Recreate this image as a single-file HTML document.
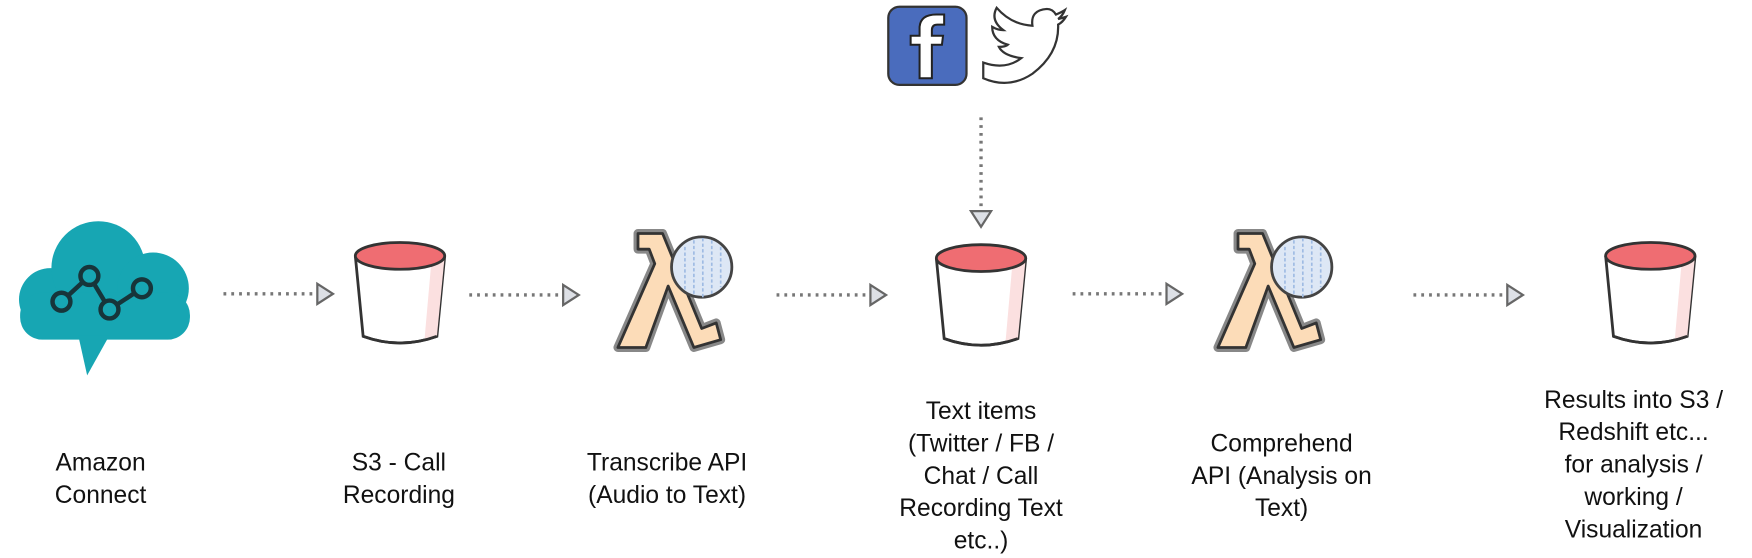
<!DOCTYPE html>
<html><head><meta charset="utf-8"><style>
html,body{margin:0;padding:0;background:#fff;}
svg{display:block;}
text{font-family:"Liberation Sans",Arial,sans-serif;font-size:22px;fill:#111;text-anchor:middle;}
</style></head><body>
<svg width="1752" height="558" viewBox="0 0 1568 499.4" xmlns="http://www.w3.org/2000/svg">
<defs>
<g id="bucket">
  <path d="M-40,0 L-33,72 Q0,84 33,72 L40,0" fill="#fff" stroke="#333" stroke-width="2.5"/>
  <path d="M28,6 L22,74 Q30,73 33,72 L40,0 Z" fill="#fbe0e0"/>
  <path d="M-33,72 Q0,84 33,72" fill="none" stroke="#333" stroke-width="2.5"/>
  <ellipse cx="0" cy="0" rx="40" ry="12" fill="#ef6d72" stroke="#333" stroke-width="2.5"/>
</g>
<g id="lambda">
  <path d="M18,0 L40,0 L75,85 L88,80 L92,95 L68,102 L45,47 L25,102 L0,102 L33,27 L28,14 L18,14 Z" fill="#fcdcb8" stroke="#888" stroke-width="8" stroke-linejoin="round"/>
  <path d="M18,0 L40,0 L75,85 L88,80 L92,95 L68,102 L45,47 L25,102 L0,102 L33,27 L28,14 L18,14 Z" fill="#fcdcb8" stroke="#333" stroke-width="2.5" stroke-linejoin="round"/>
  <circle cx="75" cy="30" r="27" fill="#dde7f5" stroke="#444" stroke-width="2.5"/>
  <path d="M60,12 L60,50 M68,6 L68,56 M76,4 L76,57 M84,6 L84,56 M92,12 L92,48" stroke="#9fbbe3" stroke-width="1.5" stroke-dasharray="3 2"/>
</g>
<g id="arr">
  <line x1="0" y1="0" x2="82" y2="0" stroke="#777" stroke-width="3" stroke-dasharray="2.5 4.5"/>
  <path d="M84,-9 L98,0 L84,9 Z" fill="#dde0e6" stroke="#666" stroke-width="2"/>
</g>
</defs>

<!-- Amazon Connect cloud -->
<g fill="#17a6b3">
  <circle cx="45" cy="268" r="28"/>
  <circle cx="88" cy="240" r="42"/>
  <circle cx="137" cy="258" r="32"/>
  <rect x="18" y="262" width="152" height="42" rx="20"/>
  <path d="M70,300 L98,300 L78,336 Z"/>
</g>
<g fill="none" stroke="#17353a" stroke-width="4">
  <polyline points="55,270 80,247 98,277 127,258"/>
</g>
<g fill="#17a6b3" stroke="#17353a" stroke-width="4">
  <circle cx="55" cy="270" r="8"/><circle cx="80" cy="247" r="8"/><circle cx="98" cy="277" r="8"/><circle cx="127" cy="258" r="8"/>
</g>

<use href="#arr" x="200" y="263"/>
<use href="#bucket" x="358" y="229"/>
<use href="#arr" x="420" y="264"/>
<use href="#lambda" x="553" y="209"/>
<use href="#arr" x="695" y="264"/>
<use href="#bucket" x="878" y="231"/>
<use href="#arr" x="960" y="263"/>
<use href="#lambda" x="1090" y="209"/>
<use href="#arr" x="1265" y="264"/>
<use href="#bucket" x="1477" y="229"/>

<!-- vertical arrow -->
<line x1="878" y1="105" x2="878" y2="187" stroke="#777" stroke-width="3" stroke-dasharray="2.5 4.5"/>
<path d="M869,189 L887,189 L878,203 Z" fill="#dde0e6" stroke="#666" stroke-width="2"/>

<!-- facebook -->
<rect x="795" y="6" width="70" height="70" rx="10" fill="#4a6cbd" stroke="#333" stroke-width="2"/>
<path d="M823,70 L823,40 L815,40 L815,32 L823,32 L823,24 Q824,13 838,13 L845,13 L845,22 L839,22 Q834,22 834,27 L834,32 L844,32 L843,40 L834,40 L834,70 Z" fill="#fff" stroke="#222" stroke-width="1.8"/>
<!-- twitter -->
<path d="M880,48 Q900,55 914,44 Q898,42 894,34 Q900,34 902,32 Q888,28 888,16 Q893,19 898,19 Q886,10 892,-1 Q905,14 924,15 Q922,1 937,0 Q942,0 945,5 Q950,3 953,1 Q951,6 947,9 Q951,8 954,7 Q951,12 947,14 Q948,40 924,58 Q903,72 880,62 Z" transform="translate(0,8)" fill="#fff" stroke="#333" stroke-width="2"/>

<!-- labels -->
<text x="90" y="421">Amazon</text><text x="90" y="450">Connect</text>
<text x="357" y="421">S3 - Call</text><text x="357" y="450">Recording</text>
<text x="597" y="421">Transcribe API</text><text x="597" y="450">(Audio to Text)</text>
<text x="878" y="375">Text items</text><text x="878" y="404">(Twitter / FB /</text><text x="878" y="433">Chat / Call</text><text x="878" y="462">Recording Text</text><text x="878" y="491">etc..)</text>
<text x="1147" y="404">Comprehend</text><text x="1147" y="433">API (Analysis on</text><text x="1147" y="462">Text)</text>
<text x="1462" y="365">Results into S3 /</text><text x="1462" y="394">Redshift etc...</text><text x="1462" y="423">for analysis /</text><text x="1462" y="452">working /</text><text x="1462" y="481">Visualization</text>
</svg>
</body></html>
